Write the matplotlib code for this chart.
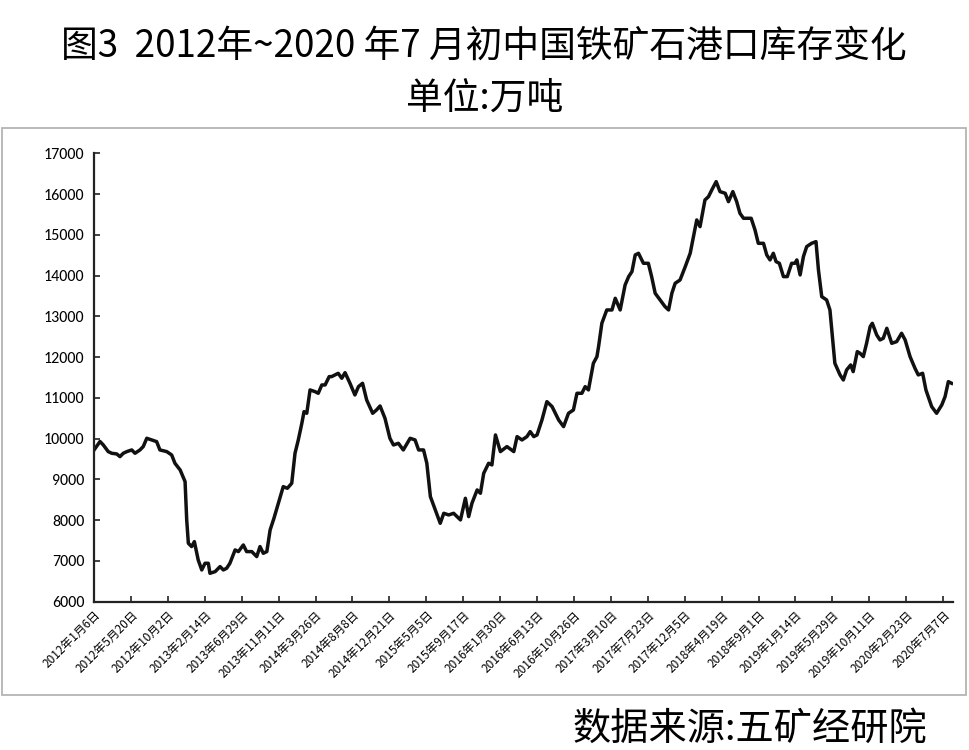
import matplotlib
matplotlib.use("Agg")
import matplotlib.pyplot as plt
from matplotlib.patches import Rectangle
import pandas as pd

plt.rcParams['font.family'] = ['Noto Sans CJK SC', 'DejaVu Sans']

title = "图3  2012年~2020 年7 月初中国铁矿石港口库存变化"
subtitle = "单位:万吨"
source = "数据来源:五矿经研院"

dates = [
    "2012-01-06", "2012-01-28", "2012-02-09", "2012-02-27", "2012-03-11", "2012-03-29",
    "2012-04-10", "2012-04-22", "2012-05-05", "2012-05-23", "2012-06-04", "2012-06-22",
    "2012-07-04", "2012-07-17", "2012-08-04", "2012-08-22", "2012-09-03", "2012-09-28",
    "2012-10-16", "2012-10-28", "2012-11-16", "2012-12-04", "2012-12-10", "2012-12-16",
    "2012-12-28", "2013-01-07", "2013-01-21", "2013-02-03", "2013-02-15", "2013-02-27",
    "2013-03-05", "2013-03-24", "2013-04-11", "2013-04-23", "2013-05-05", "2013-05-17",
    "2013-06-05", "2013-06-17", "2013-07-05", "2013-07-17", "2013-08-05", "2013-08-23",
    "2013-09-04", "2013-09-16", "2013-09-29", "2013-10-11", "2013-10-25", "2013-11-10",
    "2013-11-28", "2013-12-13", "2013-12-29", "2014-01-10", "2014-01-22", "2014-02-04",
    "2014-02-12", "2014-02-22", "2014-03-06", "2014-03-24", "2014-04-05", "2014-04-18",
    "2014-04-30", "2014-05-15", "2014-05-24", "2014-06-17", "2014-06-30", "2014-07-12",
    "2014-07-30", "2014-08-17", "2014-08-30", "2014-09-14", "2014-09-29", "2014-10-21",
    "2014-11-04", "2014-11-17", "2014-12-05", "2014-12-23", "2015-01-05", "2015-01-23",
    "2015-02-10", "2015-03-07", "2015-03-25", "2015-04-07", "2015-04-25", "2015-05-07",
    "2015-05-20", "2015-06-07", "2015-06-25", "2015-07-08", "2015-07-26", "2015-08-13",
    "2015-09-07", "2015-09-25", "2015-10-07", "2015-10-19", "2015-11-07", "2015-11-19",
    "2015-12-01", "2015-12-19", "2015-12-31", "2016-01-13", "2016-01-31", "2016-02-24",
    "2016-03-20", "2016-04-01", "2016-04-19", "2016-05-07", "2016-05-19", "2016-06-01",
    "2016-06-13", "2016-07-01", "2016-07-19", "2016-08-07", "2016-08-31", "2016-09-18",
    "2016-10-06", "2016-10-24", "2016-11-06", "2016-11-24", "2016-12-06", "2016-12-18",
    "2017-01-05", "2017-01-18", "2017-01-24", "2017-02-05", "2017-02-23", "2017-03-14",
    "2017-03-26", "2017-04-13", "2017-05-01", "2017-05-14", "2017-05-26", "2017-06-07",
    "2017-06-19", "2017-07-07", "2017-07-25", "2017-08-06", "2017-08-19", "2017-09-06",
    "2017-09-24", "2017-10-07", "2017-10-19", "2017-10-31", "2017-11-18", "2017-12-07",
    "2017-12-25", "2018-01-06", "2018-01-18", "2018-01-30", "2018-02-17", "2018-03-02",
    "2018-03-14", "2018-03-30", "2018-04-13", "2018-05-02", "2018-05-14", "2018-05-30",
    "2018-06-13", "2018-06-25", "2018-07-08", "2018-07-20", "2018-08-05", "2018-08-19",
    "2018-08-31", "2018-09-19", "2018-10-01", "2018-10-13", "2018-10-25", "2018-11-04",
    "2018-11-16", "2018-12-01", "2018-12-15", "2018-12-31", "2019-01-12", "2019-01-19",
    "2019-01-31", "2019-02-12", "2019-02-24", "2019-03-14", "2019-03-30", "2019-04-08",
    "2019-04-20", "2019-05-08", "2019-05-20", "2019-06-07", "2019-06-26", "2019-07-08",
    "2019-07-20", "2019-08-04", "2019-08-13", "2019-08-28", "2019-09-07", "2019-09-19",
    "2019-10-01", "2019-10-14", "2019-10-22", "2019-11-07", "2019-11-19", "2019-12-01",
    "2019-12-14", "2020-01-01", "2020-01-19", "2020-02-06", "2020-02-19", "2020-03-08",
    "2020-03-26", "2020-04-07", "2020-04-23", "2020-05-05", "2020-05-26", "2020-06-13",
    "2020-07-02", "2020-07-14", "2020-07-26", "2020-08-07",
]

inventory = [
    9720, 9930, 9845, 9682, 9641, 9625,
    9559, 9641, 9682, 9723, 9641, 9723,
    9805, 10009, 9968, 9927, 9723, 9682,
    9600, 9396, 9232, 8946, 8006, 7433,
    7352, 7474, 7025, 6779, 6943, 6943,
    6697, 6738, 6861, 6779, 6820, 6943,
    7270, 7229, 7392, 7229, 7229, 7106,
    7352, 7188, 7229, 7760, 8047, 8415,
    8823, 8782, 8905, 9641, 9968, 10377,
    10663, 10622, 11195, 11154, 11113, 11317,
    11317, 11522, 11522, 11603, 11481, 11619,
    11358, 11072, 11276, 11358, 10949, 10622,
    10704, 10802, 10500, 10009, 9845, 9886,
    9723, 10009, 9968, 9723, 9723, 9396,
    8578, 8251, 7924, 8169, 8128, 8169,
    8006, 8537, 8087, 8415, 8742, 8660,
    9150, 9396, 9355, 10091, 9682, 9805,
    9682, 10050, 9968, 10050, 10173, 10050,
    10091, 10459, 10908, 10786, 10459, 10295,
    10622, 10704, 11113, 11113, 11276, 11195,
    11849, 12012, 12258, 12830, 13157, 13157,
    13443, 13157, 13770, 13975, 14097, 14506,
    14547, 14302, 14302, 13975, 13566, 13402,
    13239, 13157, 13566, 13811, 13893, 14220,
    14547, 14956, 15365, 15201, 15855, 15937,
    16101, 16305, 16060, 16019, 15814, 16060,
    15814, 15528, 15406, 15406, 15406, 15119,
    14792, 14792, 14506, 14384, 14547, 14343,
    14302, 13975, 13975, 14302, 14302, 14384,
    14016, 14465, 14711, 14792, 14833, 14138,
    13484, 13402, 13157, 11849, 11563, 11440,
    11685, 11808, 11644, 12135, 12094, 12012,
    12339, 12748, 12830, 12544, 12421, 12462,
    12707, 12339, 12380, 12585, 12421, 12012,
    11726, 11563, 11603, 11195, 10786, 10622,
    10827, 11031, 11399, 11358,
]

tick_dates = [
    "2012-01-06", "2012-05-20", "2012-10-02", "2013-02-14", "2013-06-29", "2013-11-11",
    "2014-03-26", "2014-08-08", "2014-12-21", "2015-05-05", "2015-09-17", "2016-01-30",
    "2016-06-13", "2016-10-26", "2017-03-10", "2017-07-23", "2017-12-05", "2018-04-19",
    "2018-09-01", "2019-01-14", "2019-05-29", "2019-10-11", "2020-02-23", "2020-07-07",
]
tick_labels = [
    "2012年1月6日", "2012年5月20日", "2012年10月2日", "2013年2月14日", "2013年6月29日",
    "2013年11月11日", "2014年3月26日", "2014年8月8日", "2014年12月21日", "2015年5月5日",
    "2015年9月17日", "2016年1月30日", "2016年6月13日", "2016年10月26日", "2017年3月10日",
    "2017年7月23日", "2017年12月5日", "2018年4月19日", "2018年9月1日", "2019年1月14日",
    "2019年5月29日", "2019年10月11日", "2020年2月23日", "2020年7月7日",
]
y_ticks = [6000, 7000, 8000, 9000, 10000, 11000, 12000, 13000, 14000, 15000, 16000, 17000]

W, H = 969, 750
fig = plt.figure(figsize=(W / 100, H / 100), dpi=100)
fig.patch.set_facecolor("white")

# outer light-gray frame around the chart area
fig.add_artist(Rectangle((1.5 / W, 1 - 695 / H), (966 - 1.5) / W, (695 - 128) / H,
                         transform=fig.transFigure, fill=False,
                         edgecolor="#b4b4b4", linewidth=1.3))

ax = fig.add_axes([94 / W, 1 - 601.7 / H, (953 - 94) / W, (601.7 - 153.3) / H])
x = pd.to_datetime(dates)
ax.plot(x, inventory, color="#111111", linewidth=2.5, solid_joinstyle="round")

ax.set_ylim(6000, 17000)
ax.set_yticks(y_ticks)
ax.set_yticklabels([str(v) for v in y_ticks], fontsize=11.5,
                   family=["Carlito", "Open Sans", "DejaVu Sans"])

tx = pd.to_datetime(tick_dates)
start = pd.Timestamp(tick_dates[0])
ax.set_xlim(start, pd.Timestamp(dates[-1]) + pd.Timedelta(days=5))
ax.set_xticks(tx)
ax.set_xticklabels(tick_labels, rotation=45, ha="right", va="top",
                   rotation_mode="anchor", fontsize=8.5)

for s in ["top", "right"]:
    ax.spines[s].set_visible(False)
for s in ["left", "bottom"]:
    ax.spines[s].set_linewidth(1.6)
    ax.spines[s].set_color("#222222")
ax.tick_params(axis="both", direction="in", length=4, width=1.2, color="#222222")
ax.tick_params(axis="y", pad=7)
ax.tick_params(axis="x", pad=5)

fig.text(484 / W, 1 - 46 / H, title, ha="center", va="center", fontsize=26.5)
fig.text(485 / W, 1 - 98 / H, subtitle, ha="center", va="center", fontsize=26.5)
fig.text(927 / W, 1 - 729 / H, source, ha="right", va="center", fontsize=27.5)

fig.savefig("out.png", dpi=100, facecolor="white")
